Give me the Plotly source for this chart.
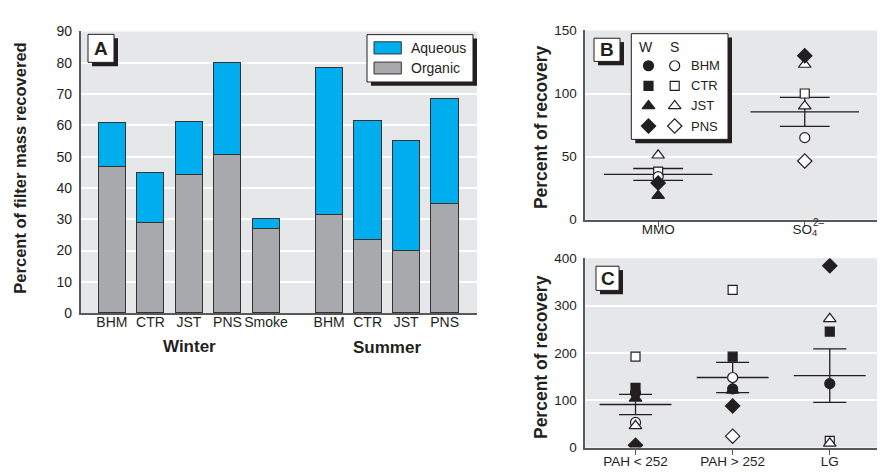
import plotly.graph_objects as go

# ---------------- data ----------------
# Panel A: percent of filter mass recovered
a_winter_sites = ["BHM", "CTR", "JST", "PNS", "Smoke"]
a_summer_sites = ["BHM", "CTR", "JST", "PNS"]
a_organic_winter = [46.5, 28.6, 44.1, 50.3, 26.9]
a_aqueous_winter = [14.0, 16.1, 16.9, 29.6, 3.0]
a_organic_summer = [31.3, 23.2, 19.8, 34.8]
a_aqueous_summer = [46.9, 38.1, 35.2, 33.4]

# Panel B: percent of recovery (W = winter, filled; S = summer, open)
b_categories = ["MMO", "SO<sub>4</sub>"]
b_w_bhm = [None, None]
b_s_bhm = [34, 65]
b_w_ctr = [None, None]
b_s_ctr = [38, 100]
b_w_jst = [19, None]
b_s_jst = [51, 90]
b_s_jst_2 = [None, 123]
b_w_pns = [29, 130]
b_s_pns = [None, 46.5]
b_mean = [35.8, 85.4]
b_se = [4.7, 11.5]

# Panel C
c_categories = ["PAH < 252", "PAH > 252", "LG"]
c_w_bhm = [115, 124, 135]
c_s_bhm = [53, 148, None]
c_w_ctr = [126, 192, 245]
c_s_ctr = [192, 333, 14]
c_w_jst = [104, 121, None]
c_s_jst = [46, None, 9]
c_s_jst_2 = [None, None, 272]
c_w_pns = [5, 88, 384]
c_s_pns = [None, 24, None]
c_mean = [91, 148, 152]
c_se = [21.5, 32, 56.5]

a_ticks = [0, 10, 20, 30, 40, 50, 60, 70, 80, 90]
b_ticks = [0, 50, 100, 150]
c_ticks = [0, 100, 200, 300, 400]

# ---------------- style ----------------
W, H = 885, 472
FONT = "Liberation Sans, Arial, sans-serif"
BLUE = "#00aeef"
GRAY = "#a7a9ac"
BG = "#e6e7e8"
INK = "#231f20"
AX = "#58595b"


def px(x):
    return x / W


def py(y):
    return 1 - y / H


fig = go.Figure()

# ---------------- panel A ----------------
gap = 0.64
xw = list(range(len(a_winter_sites)))
xs = [len(a_winter_sites) + gap + j for j in range(len(a_summer_sites))]
ax_x = xw + xs
fig.add_trace(go.Bar(x=ax_x, y=a_organic_winter + a_organic_summer, name="Organic",
                     marker=dict(color=GRAY, line=dict(color="#333333", width=1)),
                     width=0.71, xaxis="x", yaxis="y", showlegend=False))
fig.add_trace(go.Bar(x=ax_x, y=a_aqueous_winter + a_aqueous_summer, name="Aqueous",
                     marker=dict(color=BLUE, line=dict(color="#333333", width=1)),
                     width=0.71, xaxis="x", yaxis="y", showlegend=False))

# ---------------- panels B, C: points ----------------
def sym(series, cats_x, symbol, filled, ax, size=10):
    xs_, ys_ = [], []
    for xi, v in zip(cats_x, series):
        if v is not None:
            xs_.append(xi)
            ys_.append(v)
    return go.Scatter(x=xs_, y=ys_, mode="markers", xaxis=ax[0], yaxis=ax[1],
                      showlegend=False, hoverinfo="skip",
                      marker=dict(symbol=symbol, size=size,
                                  color=INK if filled else "white",
                                  line=dict(color=INK, width=1.2)))


def mean_trace(means, ses, ax):
    xx, yy = [], []
    for i, (m, s) in enumerate(zip(means, ses)):
        xx += [i - 0.37, i + 0.37, None, i, i, None,
               i - 0.17, i + 0.17, None, i - 0.17, i + 0.17, None]
        yy += [m, m, None, m - s, m + s, None,
               m + s, m + s, None, m - s, m - s, None]
    return go.Scatter(x=xx, y=yy, mode="lines", xaxis=ax[0], yaxis=ax[1],
                      line=dict(color=INK, width=1.3), showlegend=False,
                      hoverinfo="skip")


def add_points(ax, cats, s_ctr, s_bhm, s_jst, s_jst2, w_bhm, w_ctr, w_jst, w_pns, s_pns, means, ses):
    cx = list(range(len(cats)))
    fig.add_trace(mean_trace(means, ses, ax))
    fig.add_trace(sym(s_ctr, cx, "square", False, ax, 9))
    fig.add_trace(sym(s_bhm, cx, "circle", False, ax, 10))
    fig.add_trace(sym(s_jst, cx, "triangle-up", False, ax, 11))
    fig.add_trace(sym(s_jst2, cx, "triangle-up", False, ax, 11))
    fig.add_trace(sym(w_bhm, cx, "circle", True, ax, 10))
    fig.add_trace(sym(w_ctr, cx, "square", True, ax, 9))
    fig.add_trace(sym(w_jst, cx, "triangle-up", True, ax, 11))
    fig.add_trace(sym(w_pns, cx, "diamond", True, ax, 11))
    fig.add_trace(sym(s_pns, cx, "diamond", False, ax, 11))


add_points(("x2", "y2"), b_categories, b_s_ctr, b_s_bhm, b_s_jst, b_s_jst_2, b_w_bhm,
           b_w_ctr, b_w_jst, b_w_pns, b_s_pns, b_mean, b_se)
add_points(("x3", "y3"), c_categories, c_s_ctr, c_s_bhm, c_s_jst, c_s_jst_2, c_w_bhm,
           c_w_ctr, c_w_jst, c_w_pns, c_s_pns, c_mean, c_se)

# ---------------- axes ----------------
tickfont_a = dict(family=FONT, size=14, color=INK)
tickfont_bc = dict(family=FONT, size=13.5, color=INK)
common_y = dict(showgrid=True, gridcolor="white", gridwidth=1.5, zeroline=False,
                showline=True, linecolor=AX, linewidth=1.5, ticks="",
                ticklabelstandoff=4, fixedrange=True)

a_x0, a_x1 = 72.7, 469
b_x0 = 577.3
bx_range = [-0.497, 1.602]
by_range = [0, 150]
b_top, b_bot = 15, 210.7
cx_range = [-0.517, 2.651]
c_top, c_bot = 250.7, 446.7

fig.update_layout(
    width=W, height=H,
    margin=dict(l=0, r=0, t=0, b=0),
    paper_bgcolor="white", plot_bgcolor=BG,
    barmode="stack", bargap=0,
    font=dict(family=FONT, color=INK),
    xaxis=dict(domain=[px(a_x0), px(a_x1)], range=[-0.81, 9.48],
               tickvals=ax_x, ticktext=a_winter_sites + a_summer_sites,
               showgrid=False, zeroline=False, showline=True, linecolor=AX,
               linewidth=1.5, ticks="", tickfont=tickfont_a, ticklabelstandoff=-5,
               anchor="y", fixedrange=True),
    yaxis=dict(domain=[py(307.6), py(16)], range=[0, 90], tickvals=a_ticks,
               anchor="x", tickfont=tickfont_a, **common_y),
    xaxis2=dict(domain=[px(b_x0), 1], range=bx_range, tickvals=[0, 1],
                ticktext=b_categories, showgrid=False, zeroline=False,
                showline=True, linecolor=AX, linewidth=1.5, ticks="outside",
                ticklen=6, tickcolor=AX, tickwidth=1.2, tickfont=tickfont_bc,
                ticklabelstandoff=-10, anchor="y2", fixedrange=True),
    yaxis2=dict(domain=[py(b_bot), py(b_top)], range=by_range, tickvals=b_ticks,
                anchor="x2", tickfont=tickfont_bc, **common_y),
    xaxis3=dict(domain=[px(b_x0), 1], range=cx_range, tickvals=[0, 1, 2],
                ticktext=c_categories, showgrid=False, zeroline=False,
                showline=True, linecolor=AX, linewidth=1.5, ticks="outside",
                ticklen=6, tickcolor=AX, tickwidth=1.2, tickfont=tickfont_bc,
                ticklabelstandoff=-6, anchor="y3", fixedrange=True),
    yaxis3=dict(domain=[py(c_bot), py(c_top)], range=[0, 400], tickvals=c_ticks,
                anchor="x3", tickfont=tickfont_bc, **common_y),
)

shapes = []
annotations = []


def ann(text, x, y, size=14, bold=False, xanchor="center", angle=0):
    annotations.append(dict(text=f"<b>{text}</b>" if bold else text,
                            x=px(x), y=py(y), xref="paper", yref="paper",
                            xanchor=xanchor, yanchor="middle", showarrow=False,
                            textangle=angle, font=dict(family=FONT, size=size, color=INK)))


def boxed(x0, y0, x1, y1, layer="above", xref="paper", yref="paper", conv=None, off=4):
    f = conv if conv else (px, py)
    shapes.append(dict(type="rect", xref=xref, yref=yref, layer=layer,
                       x0=f[0](x0 + off), x1=f[0](x1 + off), y0=f[1](y0 + off), y1=f[1](y1 + off),
                       fillcolor=INK, line=dict(width=0)))
    shapes.append(dict(type="rect", xref=xref, yref=yref, layer=layer,
                       x0=f[0](x0), x1=f[0](x1), y0=f[1](y0), y1=f[1](y1),
                       fillcolor="white", line=dict(color=INK, width=1)))


# axis titles
ann("Percent of filter mass recovered", 12, 158, size=16.5, bold=True, angle=-90)
ann("Percent of recovery", 533, 115, size=17.5, bold=True, angle=-90)
ann("Percent of recovery", 533, 353, size=17.5, bold=True, angle=-90)
ann("Winter", 181, 342, size=17, bold=True)
ann("Summer", 379, 343, size=17, bold=True)

# superscript of sulfate label
ann("2–", 803, 214, size=10, xanchor="left")

# panel letters
boxed(80, 19, 106, 48)
ann("A", 93, 33.5, size=19, bold=True)
boxed(586, 23, 612, 47)
ann("B", 599, 35, size=19, bold=True)
boxed(588, 259, 611, 284)
ann("C", 599.5, 271.5, size=19, bold=True)

# legend A
boxed(359, 19.3, 465, 68.3, off=4)
shapes.append(dict(type="rect", xref="paper", yref="paper", layer="above",
                   x0=px(366), x1=px(393.3), y0=py(26.7), y1=py(39.3),
                   fillcolor=BLUE, line=dict(color="#333333", width=1)))
shapes.append(dict(type="rect", xref="paper", yref="paper", layer="above",
                   x0=px(366), x1=px(393.3), y0=py(47.7), y1=py(60),
                   fillcolor=GRAY, line=dict(color="#333333", width=1)))
ann("Aqueous", 401, 33.3, size=14, xanchor="left")
ann("Organic", 401, 53.7, size=14, xanchor="left")


# legend B (drawn in panel-B data coordinates so markers sit above the box)
def bxp(p):
    return bx_range[0] + (p - b_x0) / (W - b_x0) * (bx_range[1] - bx_range[0])


def byp(p):
    return by_range[0] + (b_bot - p) / (b_bot - b_top) * (by_range[1] - by_range[0])


boxed(623.3, 18.3, 720, 127.7, layer="between", xref="x2", yref="y2", conv=(bxp, byp))
ann("W", 638, 32.5, size=14)
ann("S", 666.7, 32.5, size=14)
leg_rows = ["BHM", "CTR", "JST", "PNS"]
leg_syms = ["circle", "square", "triangle-up", "diamond"]
leg_sizes = [10, 9, 11, 11]
for k, (lab, sy, sz) in enumerate(zip(leg_rows, leg_syms, leg_sizes)):
    ry = 51.5 + 20.8 * k
    for xx, filled in ((640.5, True), (666.7, False)):
        fig.add_trace(go.Scatter(x=[bxp(xx)], y=[byp(ry)], mode="markers",
                                 xaxis="x2", yaxis="y2", showlegend=False, hoverinfo="skip",
                                 marker=dict(symbol=sy, size=sz,
                                             color=INK if filled else "white",
                                             line=dict(color=INK, width=1.2))))
    ann(lab, 681, ry, size=13, xanchor="left")

fig.update_layout(shapes=shapes, annotations=annotations)
fig.write_html("out.html")
